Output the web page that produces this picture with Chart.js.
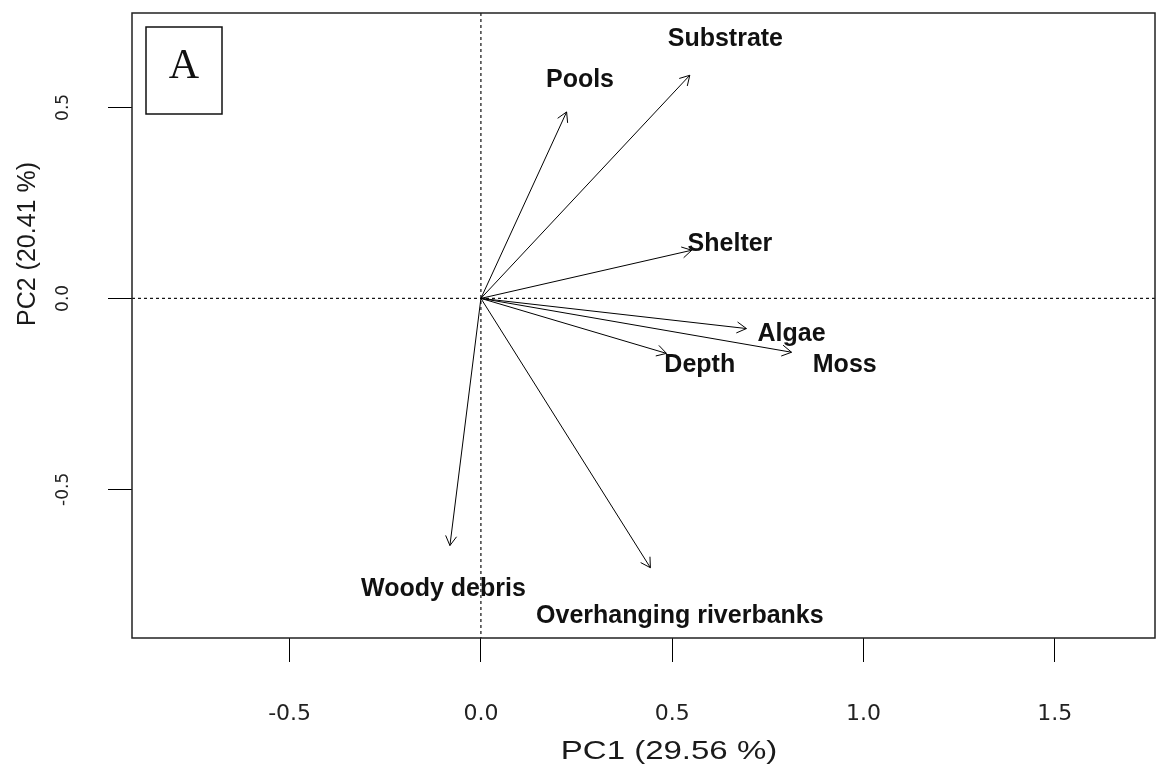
<!DOCTYPE html>
<html>
<head>
<meta charset="utf-8">
<script src="https://cdn.jsdelivr.net/npm/chart.js@4.4.0/dist/chart.umd.min.js"></script>
<style>
  body { margin: 0; background: #fff; }
  #wrap { width: 1156px; height: 778px; }
</style>
</head>
<body>
<div id="wrap"><canvas id="graph" width="1156" height="778"></canvas></div>
<script>
// PCA loadings (arrow tips) for the habitat variables
const variables = ['Pools', 'Substrate', 'Shelter', 'Algae', 'Moss', 'Depth', 'Woody debris', 'Overhanging riverbanks'];
const pc1 = [0.224, 0.546, 0.551, 0.694, 0.812, 0.485, -0.081, 0.443];
const pc2 = [0.488, 0.584, 0.126, -0.079, -0.141, -0.144, -0.647, -0.705];

// where each variable name sits
const labelPc1 = [0.259, 0.639, 0.651, 0.812, 0.951, 0.572, -0.098, 0.520];
const labelPc2 = [0.572, 0.679, 0.143, -0.094, -0.175, -0.175, -0.760, -0.832];

const xTicks = [-0.5, 0, 0.5, 1, 1.5];
const yTicks = [-0.5, 0, 0.5];
const xTitle = 'PC1 (29.56 %)';
const yTitle = 'PC2 (20.41 %)';
const panelTag = 'A';

const datasets = variables.map((name, i) => ({
    label: name,
    data: [{x: 0, y: 0}, {x: pc1[i], y: pc2[i]}],
    showLine: true,
    borderColor: '#000',
    borderWidth: 1,
    pointRadius: 0,
    pointHoverRadius: 0
}));

function line(ctx, x1, y1, x2, y2){
    ctx.beginPath();
    ctx.moveTo(x1, y1);
    ctx.lineTo(x2, y2);
    ctx.stroke();
}

const biplotExtras = {
    id: 'biplotExtras',
    beforeDatasetsDraw(chart){
        const {ctx, chartArea: a, scales: {x, y}} = chart;
        const x0 = x.getPixelForValue(0);
        const y0 = y.getPixelForValue(0);
        ctx.save();
        ctx.strokeStyle = '#111';
        ctx.lineWidth = 1.2;
        ctx.setLineDash([3, 3]);
        line(ctx, x0, a.top, x0, a.bottom);
        line(ctx, a.left, y0, a.right, y0);
        ctx.restore();
    },
    afterDatasetsDraw(chart){
        const {ctx, chartArea: a, scales: {x, y}} = chart;
        ctx.save();
        // frame
        ctx.strokeStyle = '#222';
        ctx.lineWidth = 1.5;
        ctx.strokeRect(a.left, a.top, a.width, a.height);

        // arrow heads
        ctx.strokeStyle = '#000';
        ctx.lineWidth = 1;
        const ox = x.getPixelForValue(0), oy = y.getPixelForValue(0);
        pc1.forEach((v, i) => {
            const tx = x.getPixelForValue(v), ty = y.getPixelForValue(pc2[i]);
            const ang = Math.atan2(ty - oy, tx - ox);
            const len = 11, spread = Math.PI / 6;
            line(ctx, tx, ty, tx - len * Math.cos(ang - spread), ty - len * Math.sin(ang - spread));
            line(ctx, tx, ty, tx - len * Math.cos(ang + spread), ty - len * Math.sin(ang + spread));
        });

        // variable names
        ctx.fillStyle = '#111';
        ctx.font = 'bold 25px "Liberation Sans", Arial, sans-serif';
        ctx.textAlign = 'center';
        ctx.textBaseline = 'middle';
        variables.forEach((name, i) => {
            ctx.fillText(name, x.getPixelForValue(labelPc1[i]), y.getPixelForValue(labelPc2[i]));
        });

        // panel tag
        ctx.strokeStyle = '#111';
        ctx.lineWidth = 1.5;
        ctx.strokeRect(a.left + 14, a.top + 14, 76, 87);
        ctx.font = '42px "Liberation Serif", "Times New Roman", serif';
        ctx.textBaseline = 'alphabetic';
        ctx.fillText(panelTag, a.left + 52, a.top + 65);
        ctx.restore();
    },
    afterDraw(chart){
        const {ctx, chartArea: a} = chart;
        ctx.save();
        ctx.fillStyle = '#1a1a1a';
        ctx.textAlign = 'center';
        ctx.textBaseline = 'middle';
        ctx.font = '25px "Liberation Sans", Arial, sans-serif';
        // x title, drawn a little wide
        ctx.save();
        ctx.translate(a.left + 537, a.bottom + 114);
        ctx.scale(1.32, 1);
        ctx.fillText(xTitle, 0, 0);
        ctx.restore();
        // y title
        ctx.save();
        ctx.translate(28, a.top + 231);
        ctx.rotate(-Math.PI / 2);
        ctx.fillText(yTitle, 0, 0);
        ctx.restore();
        ctx.restore();
    }
};

new Chart(document.getElementById('graph'), {
    type: 'scatter',
    data: { datasets },
    options: {
        responsive: false,
        animation: false,
        events: [],
        layout: { padding: { top: 13, right: 1, left: 0, bottom: 0 } },
        plugins: { legend: { display: false }, tooltip: { enabled: false } },
        scales: {
            x: {
                type: 'linear',
                min: -0.912,
                max: 1.762,
                afterBuildTicks: s => { s.ticks = xTicks.map(v => ({value: v})); },
                afterFit: s => { s.height = 140; s.paddingLeft = 0; s.paddingRight = 0; },
                ticks: {
                    callback: v => v.toFixed(1),
                    font: { family: 'DejaVu Sans', size: 22 },
                    color: '#222',
                    padding: 39,
                    maxRotation: 0
                },
                grid: { drawOnChartArea: false, color: '#000', tickLength: 24, tickWidth: 1 },
                border: { display: false }
            },
            y: {
                type: 'linear',
                min: -0.889,
                max: 0.747,
                afterBuildTicks: s => { s.ticks = yTicks.map(v => ({value: v})); },
                afterFit: s => { s.width = 132; s.paddingTop = 0; s.paddingBottom = 0; },
                ticks: {
                    callback: v => v.toFixed(1),
                    font: { family: 'DejaVu Sans', size: 17 },
                    color: '#222',
                    padding: 28,
                    minRotation: 90,
                    maxRotation: 90,
                    crossAlign: 'center'
                },
                grid: { drawOnChartArea: false, color: '#000', tickLength: 24, tickWidth: 1 },
                border: { display: false }
            }
        }
    },
    plugins: [biplotExtras]
});
</script>
</body>
</html>
